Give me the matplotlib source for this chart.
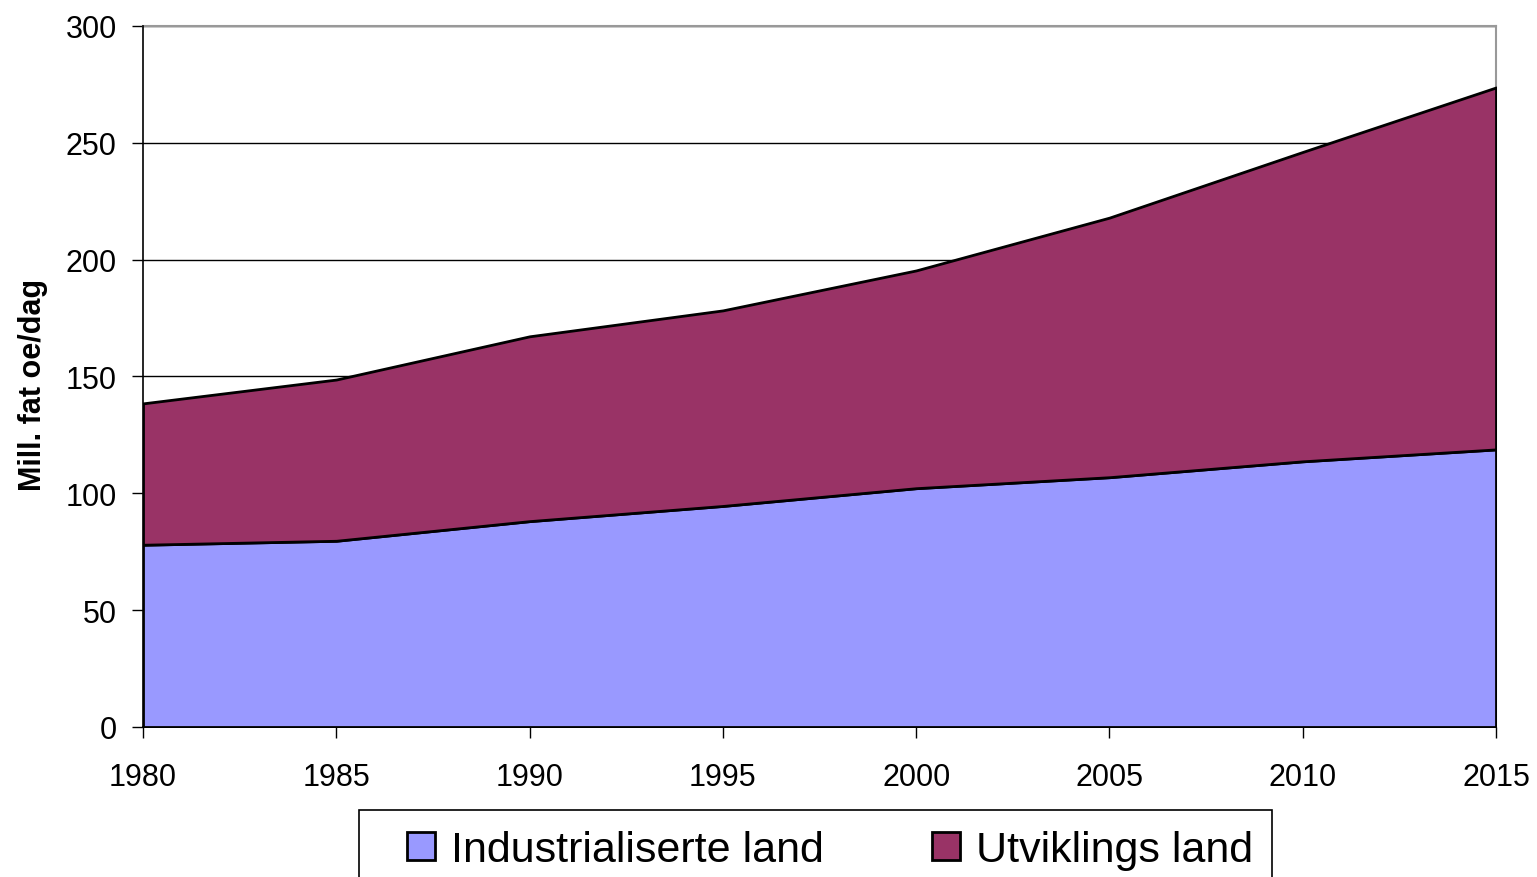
import matplotlib
matplotlib.use("Agg")
import matplotlib.pyplot as plt
from matplotlib.patches import Rectangle

years = [1980, 1985, 1990, 1995, 2000, 2005, 2010, 2015]
industrialiserte = [78.0, 79.7, 88.1, 94.6, 102.2, 106.9, 113.7, 118.8]
utviklings = [60.5, 69.0, 79.1, 83.7, 93.2, 111.1, 132.4, 154.9]
series_names = ["Industrialiserte land", "Utviklings land"]
colors = ["#9999FF", "#993366"]
y_label = "Mill. fat oe/dag"

plt.rcParams['font.family'] = ['Liberation Sans', 'DejaVu Sans']

W, H = 1537, 878
fig = plt.figure(figsize=(W / 100, H / 100), dpi=100)
ax = fig.add_axes([143 / W, 1 - 728 / H, (1496 - 143) / W, (728 - 27) / H])

polys = ax.stackplot(years, industrialiserte, utviklings, colors=colors,
                     edgecolor='black', linewidth=2, labels=series_names, zorder=3)

ax.set_xlim(1980, 2015)
ax.set_ylim(0, 300)
ax.set_xticks(years)
ax.set_yticks(range(0, 301, 50))
ax.set_axisbelow(True)
ax.yaxis.grid(True, color='black', linewidth=1, zorder=0)

for s in ['left', 'bottom']:
    ax.spines[s].set_color('black')
    ax.spines[s].set_linewidth(1.2)
for s in ['top', 'right']:
    ax.spines[s].set_color('#999999')
    ax.spines[s].set_linewidth(1.5)
    ax.spines[s].set_zorder(1)

ax.tick_params(axis='both', direction='out', length=8, width=1, colors='black',
               labelsize=22)
ax.tick_params(axis='y', pad=11)
ax.tick_params(axis='x', pad=17)

ax.set_ylabel(y_label, fontsize=22, fontweight='bold')
ax.yaxis.set_label_coords(-0.07, 0.49)

# legend frame (extends beyond the bottom edge as in the reference)
fig.patches.append(Rectangle((359 / W, -0.05), (1272 - 359) / W, 0.05 + 1 - 811 / H,
                             transform=fig.transFigure, facecolor='white',
                             edgecolor='black', linewidth=1.2, zorder=0))
leg = fig.legend(handles=polys, labels=series_names, loc='center',
                 bbox_to_anchor=(830 / W, 1 - 851 / H), ncol=2, frameon=False,
                 fontsize=31, handlelength=0.65, handleheight=0.65,
                 handletextpad=0.37, columnspacing=2.5, borderpad=0)

fig.savefig("out.png", dpi=100)
